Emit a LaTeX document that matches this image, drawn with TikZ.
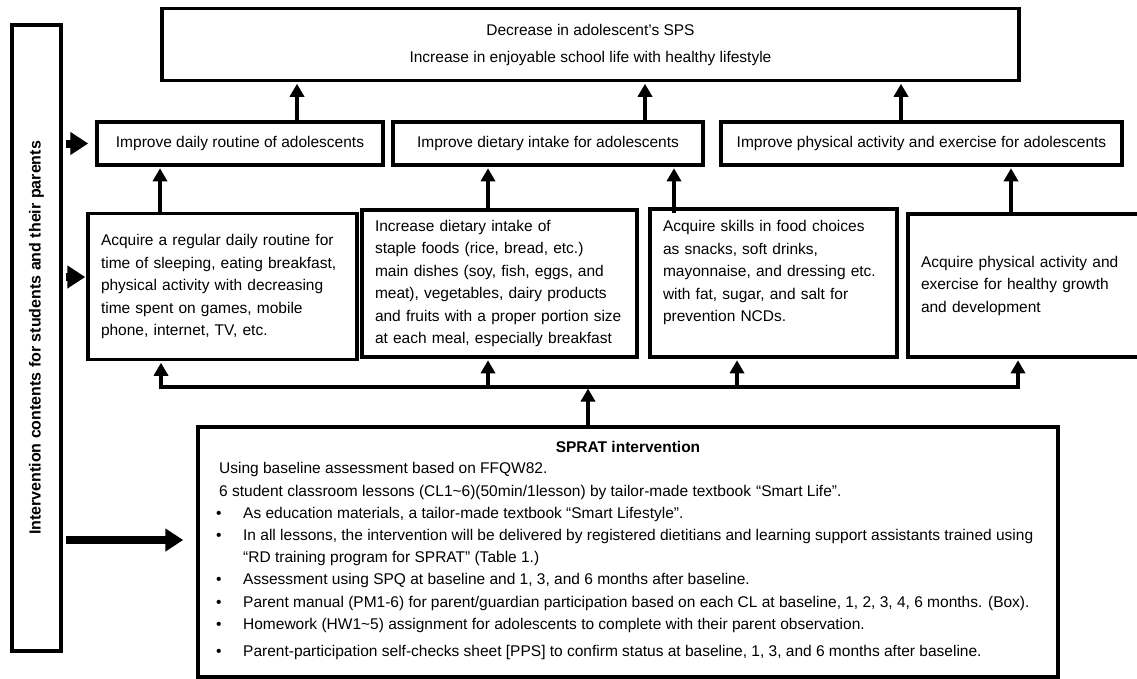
\documentclass[tikz,border=0pt]{standalone}
\usepackage{fontspec}
\setmainfont{Liberation Sans}
\usetikzlibrary{arrows.meta}

\begin{document}
\begin{tikzpicture}[x=1pt,y=-1pt,
  box/.style={draw,line width=3.5pt,inner xsep=13pt,inner ysep=0pt,font=\fontsize{15.5}{22.5}\selectfont},
  goal/.style={box,minimum height=43pt,align=center},
  content/.style={box,align=left},
  uparr/.style={line width=4pt,-{Triangle[width=14pt,length=13pt]},shorten >=1.5pt},
  sidearr/.style={line width=8pt,-{Triangle[width=22pt,length=18pt]},shorten <=3pt}]

  \useasboundingbox (0,0) rectangle (1137,678);

  \node[box,minimum width=857pt,minimum height=72pt,align=center] (top) at (590.5,44.5) {Decrease in adolescent’s SPS\\[4.5pt]Increase in enjoyable school life with healthy lifestyle};
  \node[box,minimum width=49pt,minimum height=626pt,inner xsep=0pt] (side) at (36.5,338) {\rotatebox{90}{\fontsize{16}{20}\selectfont\bfseries Intervention contents for students and their parents}};

  \node[goal,minimum width=286pt] (imp1) at (240,143.5) {Improve daily routine of adolescents};
  \node[goal,minimum width=310pt] (imp2) at (548,143.5) {Improve dietary intake for adolescents};
  \node[goal,minimum width=401pt] (imp3) at (921.5,143.5) {Improve physical activity and exercise for adolescents};

  \node[content,text width=243pt,minimum height=146pt] (boxA) at (222.5,286.5) {Acquire a regular daily routine for\\time of sleeping, eating breakfast,\\physical activity with decreasing\\time spent on games, mobile\\phone, internet, TV, etc.};
  \node[content,text width=249pt,minimum height=147pt] (boxB) at (499.5,283.5) {Increase dietary intake of\\staple foods (rice, bread, etc.)\\main dishes (soy, fish, eggs, and\\meat), vegetables, dairy products\\and fruits with a proper portion size\\at each meal, especially breakfast};
  \node[content,text width=221pt,minimum height=148pt] (boxC) at (773.5,283) {Acquire skills in food choices\\as snacks, soft drinks,\\mayonnaise, and dressing etc.\\with fat, sugar, and salt for\\prevention NCDs.\\[-6pt]\strut};
  \node[content,text width=216pt,minimum height=143pt] (boxD) at (1029,285.5) {Acquire physical activity and\\exercise for healthy growth\\and development};

  \node[box,minimum width=860pt,minimum height=250pt] (sprat) at (628,552) {};
  \node[font=\fontsize{15.5}{22}\selectfont\bfseries] (spratTitle) at (628,447) {SPRAT intervention};
  \node[anchor=north west,inner sep=0pt,align=left,font=\fontsize{15.5}{22.2}\selectfont] (spratBody) at (219,462.5) {Using baseline assessment based on FFQW82.\\
    6 student classroom lessons (CL1\textasciitilde6)(50min/1lesson) by tailor-made textbook\hspace{5pt}“Smart Life”.\\
    \makebox[24pt][l]{\hspace{-3pt}\textbullet}As education materials, a tailor-made textbook “Smart Lifestyle”.\\
    \makebox[24pt][l]{\hspace{-3pt}\textbullet}In all lessons, the intervention will be delivered by registered dietitians and learning support assistants trained using\\
    \hspace*{24pt}“RD training program for SPRAT” (Table 1.)\\
    \makebox[24pt][l]{\hspace{-3pt}\textbullet}Assessment using SPQ at baseline and 1, 3, and 6 months after baseline.\\
    \makebox[24pt][l]{\hspace{-3pt}\textbullet}Parent manual (PM1-6) for parent/guardian participation based on each CL at baseline, 1, 2, 3, 4, 6 months. (Box).\\
    \makebox[24pt][l]{\hspace{-3pt}\textbullet}Homework (HW1\textasciitilde5) assignment for adolescents to complete with their parent observation.\\[5pt]
    \makebox[24pt][l]{\hspace{-3pt}\textbullet}Parent-participation self-checks sheet [PPS] to confirm status at baseline, 1, 3, and 6 months after baseline.};

  \draw[sidearr,shorten >=7pt] (side.east |- imp1.west) -- (imp1.west);
  \draw[sidearr,shorten >=1pt] (side.east |- 0,277) -- (boxA.west |- 0,277);
  \draw[sidearr,shorten >=13pt] (side.east |- 0,540) -- (sprat.west |- 0,540);

  \draw[uparr] (imp1.north -| 297,0) -- (top.south -| 297,0);
  \draw[uparr] (imp2.north -| 645,0) -- (top.south -| 645,0);
  \draw[uparr] (imp3.north -| 901,0) -- (top.south -| 901,0);

  \draw[uparr] (boxA.north -| 160,0) -- (imp1.south -| 160,0);
  \draw[uparr] (boxB.north -| 488,0) -- (imp2.south -| 488,0);
  \draw[uparr,shorten <=-6pt] (boxC.north -| 674,0) -- (imp2.south -| 674,0);
  \draw[uparr] (boxD.north -| 1011,0) -- (imp3.south -| 1011,0);

  \coordinate (busL) at (161,387);
  \coordinate (busR) at (1018,387);
  \draw[line width=4pt,line cap=rect] (busL) -- (busR);
  \draw[uparr] (busL) -- (boxA.south -| busL);
  \draw[uparr] (busL -| 488,0) -- (boxB.south -| 488,0);
  \draw[uparr] (busL -| 737,0) -- (boxC.south -| 737,0);
  \draw[uparr] (busR) -- (boxD.south -| busR);
  \draw[uparr] (sprat.north -| 588,0) -- (busL -| 588,0);

\end{tikzpicture}
\end{document}
